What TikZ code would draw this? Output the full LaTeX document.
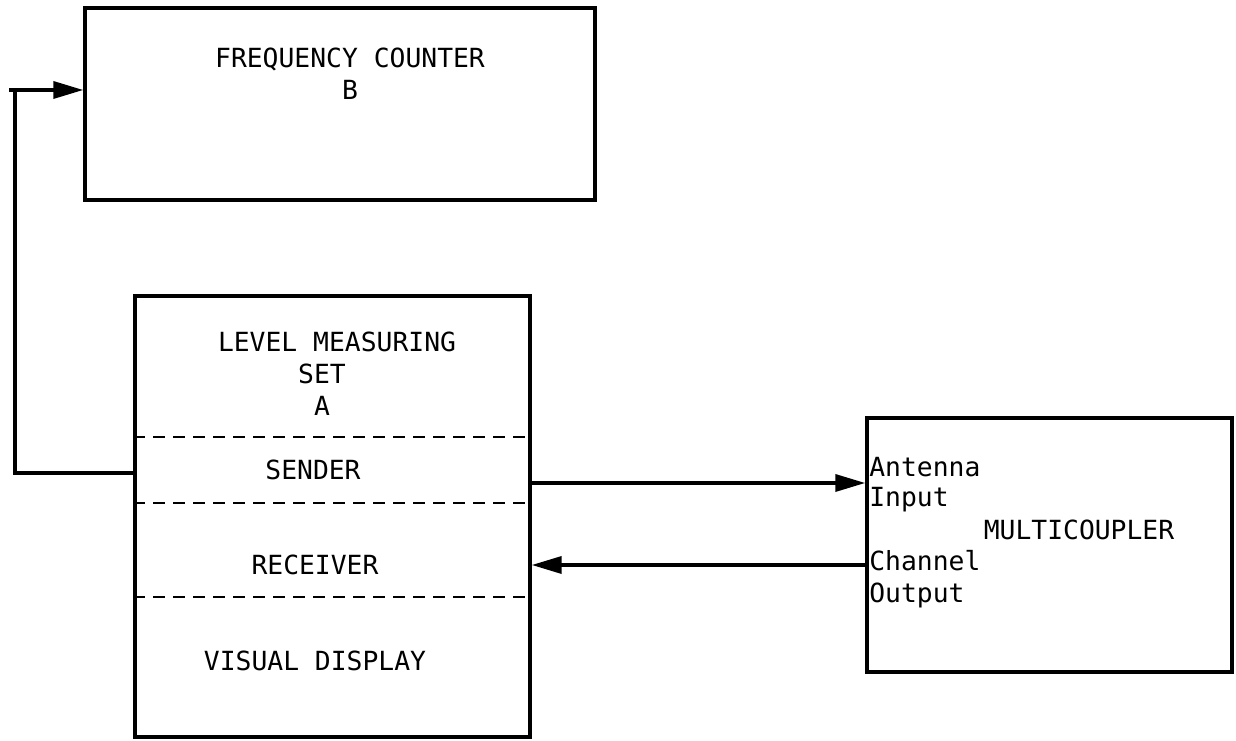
\documentclass[tikz,border=0pt]{standalone}
\usepackage{fontspec}
\setmonofont{DejaVu Sans Mono}
\usetikzlibrary{arrows.meta}

\tikzset{
  box/.style={draw, line width=2pt, inner sep=0pt},
  label/.style={font=\ttfamily\fontsize{15}{18}\selectfont, inner sep=0pt},
  arr/.style={line width=2pt, -{Triangle[length=0.6cm, width=0.34cm]}},
  split/.style={line width=0.9pt, dash pattern=on 0.24cm off 0.16cm}
}

\begin{document}
\begin{tikzpicture}[x=0.02cm, y=0.02cm]
    \useasboundingbox (0,0) rectangle (1236,740);

    % Define the boxes
    \node[box, minimum width=10.2cm, minimum height=3.84cm] (counter) at (340,636) {};
    \node[box, minimum width=7.9cm, minimum height=8.82cm] (lms) at (332.5,223.5) {};
    \node[box, minimum width=7.3cm, minimum height=5.08cm] (multi) at (1049.5,195) {};

    % Draw the dashed partitions
    \draw[split] (lms.west |- 0,303) -- (lms.east |- 0,303);
    \draw[split] (lms.west |- 0,237) -- (lms.east |- 0,237);
    \draw[split] (lms.west |- 0,143) -- (lms.east |- 0,143);

    % Place the labels
    \node[label, anchor=base] (fc1) at (350,672) {FREQUENCY COUNTER};
    \node[label, anchor=base] (fc2) at (350,640) {B};
    \node[label, anchor=base] (lm1) at (337,388) {LEVEL MEASURING};
    \node[label, anchor=base] (lm2) at (322,356) {SET};
    \node[label, anchor=base] (lm3) at (322,324) {A};
    \node[label, anchor=base] (snd) at (313,260) {SENDER};
    \node[label, anchor=base] (rcv) at (315,165) {RECEIVER};
    \node[label, anchor=base] (vis) at (315,70) {VISUAL DISPLAY};
    \node[label, anchor=base] (mc) at (1079,200) {MULTICOUPLER};
    \node[label, anchor=base west] (ant1) at (869,263) {Antenna};
    \node[label, anchor=base west] (ant2) at (869,233) {Input};
    \node[label, anchor=base west] (ch1) at (869,169) {Channel};
    \node[label, anchor=base west] (ch2) at (869,137) {Output};

    % Define the ports
    \coordinate (ant) at (multi.west |- 0,257);
    \coordinate (chan) at (multi.west |- 0,175);
    \coordinate (tap) at (lms.west |- 0,267);
    \coordinate (corner) at (15,650);

    % Draw the arrows
    \draw[arr] (lms.east |- ant) -- (ant);
    \draw[arr] (chan) -- (lms.east |- chan);
    \draw[arr] (tap) -| (corner) -- (counter.west |- corner);
    \draw[line width=2pt] (corner) -- ++(-6,0);

\end{tikzpicture}
\end{document}
